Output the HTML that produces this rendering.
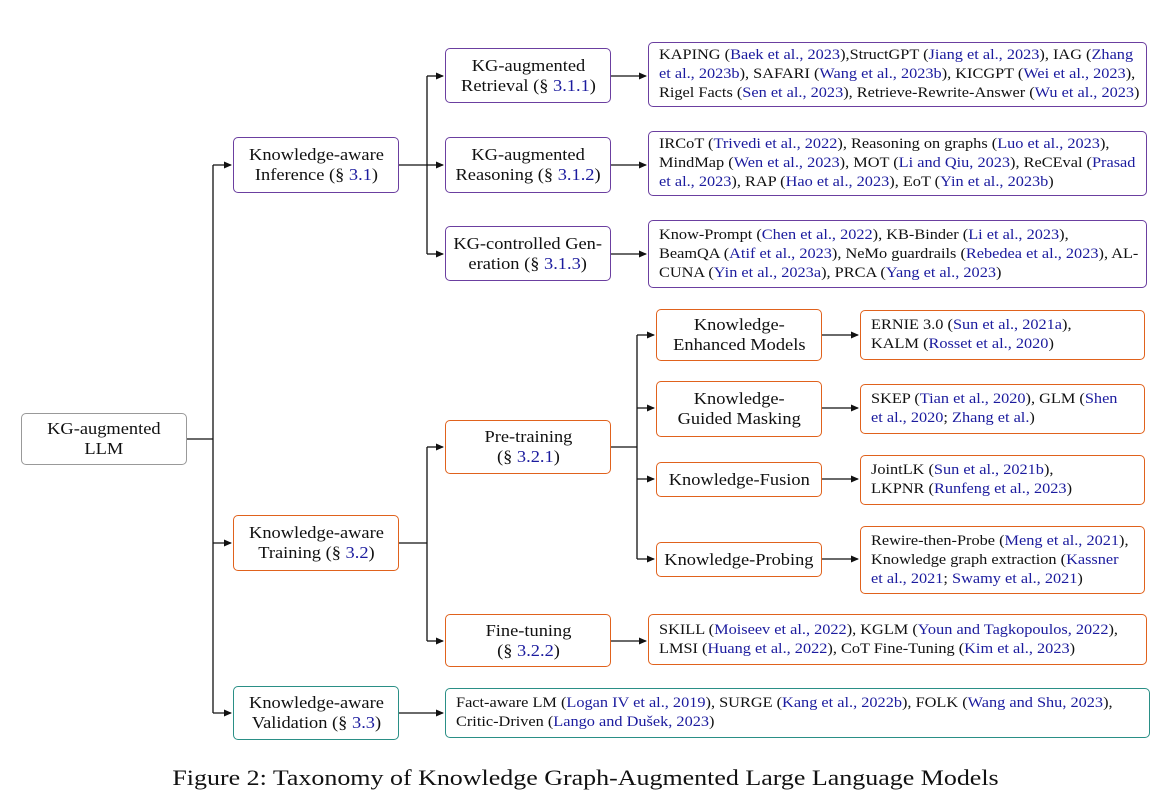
<!DOCTYPE html>
<html><head><meta charset="utf-8">
<style>
body{margin:0;width:1171px;height:811px;background:#fff;position:relative;font-family:"Liberation Serif",serif;overflow:hidden}
.b{position:absolute;box-sizing:border-box;border:1.3px solid;border-radius:5px;display:flex;align-items:center;justify-content:center;text-align:center;font-size:16.5px;line-height:20px;color:#111;white-space:nowrap}
.b>div{transform:scaleX(1.115)}
.l{justify-content:flex-start;text-align:left;font-size:14.3px;line-height:19px;padding-left:10px}
.l>div{transform:scaleX(1.14);transform-origin:left center}
.p{border-color:#6b3fa0}.o{border-color:#e0621d}.t{border-color:#2a8f86}.g{border-color:#999}
c{color:#1b1b9e}
svg{position:absolute;left:0;top:0}
.cap{position:absolute;top:765px;left:0;width:1171px;text-align:center;font-size:22px;color:#111;transform:scaleX(1.18)}
</style></head><body>
<svg width="1171" height="811">
<defs><marker id="a" markerWidth="8" markerHeight="8" refX="7" refY="4" orient="auto" markerUnits="userSpaceOnUse"><path d="M0,0.5 L8,4 L0,7.5z" fill="#111"/></marker></defs>
<g stroke="#111" stroke-width="1.3" fill="none">
<path d="M187,439H213M213,165V713"/>
<path d="M213,165H231" marker-end="url(#a)"/>
<path d="M213,543H231" marker-end="url(#a)"/>
<path d="M213,713H231" marker-end="url(#a)"/>
<path d="M399,165H427M427,76V254"/>
<path d="M427,76H443" marker-end="url(#a)"/>
<path d="M427,165H443" marker-end="url(#a)"/>
<path d="M427,254H443" marker-end="url(#a)"/>
<path d="M611,76H646" marker-end="url(#a)"/>
<path d="M611,165H646" marker-end="url(#a)"/>
<path d="M611,254H646" marker-end="url(#a)"/>
<path d="M399,543H427M427,447V641"/>
<path d="M427,447H443" marker-end="url(#a)"/>
<path d="M427,641H443" marker-end="url(#a)"/>
<path d="M611,447H637M637,335V559"/>
<path d="M637,335H654" marker-end="url(#a)"/>
<path d="M637,408H654" marker-end="url(#a)"/>
<path d="M637,479H654" marker-end="url(#a)"/>
<path d="M637,559H654" marker-end="url(#a)"/>
<path d="M822,335H858" marker-end="url(#a)"/>
<path d="M822,408H858" marker-end="url(#a)"/>
<path d="M822,479H858" marker-end="url(#a)"/>
<path d="M822,559H858" marker-end="url(#a)"/>
<path d="M611,641H646" marker-end="url(#a)"/>
<path d="M399,713H443" marker-end="url(#a)"/>
</g></svg>

<div class="b g" style="left:21px;top:413px;width:166px;height:52px"><div>KG-augmented<br>LLM</div></div>
<div class="b p" style="left:233px;top:137px;width:166px;height:56px"><div>Knowledge-aware<br>Inference (§ <c>3.1</c>)</div></div>
<div class="b o" style="left:233px;top:515px;width:166px;height:56px"><div>Knowledge-aware<br>Training (§ <c>3.2</c>)</div></div>
<div class="b t" style="left:233px;top:686px;width:166px;height:54px"><div>Knowledge-aware<br>Validation (§ <c>3.3</c>)</div></div>

<div class="b p" style="left:445px;top:48px;width:166px;height:55px"><div>KG-augmented<br>Retrieval (§ <c>3.1.1</c>)</div></div>
<div class="b p" style="left:445px;top:137px;width:166px;height:56px"><div>KG-augmented<br>Reasoning (§ <c>3.1.2</c>)</div></div>
<div class="b p" style="left:445px;top:226px;width:166px;height:55px"><div>KG-controlled Gen-<br>eration (§ <c>3.1.3</c>)</div></div>

<div class="b l p" style="left:648px;top:42px;width:499px;height:65px"><div>KAPING (<c>Baek et al., 2023</c>),StructGPT (<c>Jiang et al., 2023</c>), IAG (<c>Zhang</c><br><c>et al., 2023b</c>), SAFARI (<c>Wang et al., 2023b</c>), KICGPT (<c>Wei et al., 2023</c>),<br>Rigel Facts (<c>Sen et al., 2023</c>), Retrieve-Rewrite-Answer (<c>Wu et al., 2023</c>)</div></div>
<div class="b l p" style="left:648px;top:131px;width:499px;height:65px"><div>IRCoT (<c>Trivedi et al., 2022</c>), Reasoning on graphs (<c>Luo et al., 2023</c>),<br>MindMap (<c>Wen et al., 2023</c>), MOT (<c>Li and Qiu, 2023</c>), ReCEval (<c>Prasad</c><br><c>et al., 2023</c>), RAP (<c>Hao et al., 2023</c>), EoT (<c>Yin et al., 2023b</c>)</div></div>
<div class="b l p" style="left:648px;top:220px;width:499px;height:68px"><div>Know-Prompt (<c>Chen et al., 2022</c>), KB-Binder (<c>Li et al., 2023</c>),<br>BeamQA (<c>Atif et al., 2023</c>), NeMo guardrails (<c>Rebedea et al., 2023</c>), AL-<br>CUNA (<c>Yin et al., 2023a</c>), PRCA (<c>Yang et al., 2023</c>)</div></div>

<div class="b o" style="left:445px;top:420px;width:166px;height:54px"><div>Pre-training<br>(§ <c>3.2.1</c>)</div></div>
<div class="b o" style="left:445px;top:614px;width:166px;height:53px"><div>Fine-tuning<br>(§ <c>3.2.2</c>)</div></div>

<div class="b o" style="left:656px;top:309px;width:166px;height:52px"><div>Knowledge-<br>Enhanced Models</div></div>
<div class="b o" style="left:656px;top:381px;width:166px;height:56px"><div>Knowledge-<br>Guided Masking</div></div>
<div class="b o" style="left:656px;top:462px;width:166px;height:35px"><div>Knowledge-Fusion</div></div>
<div class="b o" style="left:656px;top:542px;width:166px;height:35px"><div>Knowledge-Probing</div></div>

<div class="b l o" style="left:860px;top:310px;width:285px;height:50px"><div>ERNIE 3.0 (<c>Sun et al., 2021a</c>),<br>KALM (<c>Rosset et al., 2020</c>)</div></div>
<div class="b l o" style="left:860px;top:384px;width:285px;height:50px"><div>SKEP (<c>Tian et al., 2020</c>), GLM (<c>Shen</c><br><c>et al., 2020</c>; <c>Zhang et al.</c>)</div></div>
<div class="b l o" style="left:860px;top:455px;width:285px;height:50px"><div>JointLK (<c>Sun et al., 2021b</c>),<br>LKPNR (<c>Runfeng et al., 2023</c>)</div></div>
<div class="b l o" style="left:860px;top:526px;width:285px;height:68px"><div>Rewire-then-Probe (<c>Meng et al., 2021</c>),<br>Knowledge graph extraction (<c>Kassner</c><br><c>et al., 2021</c>; <c>Swamy et al., 2021</c>)</div></div>

<div class="b l o" style="left:648px;top:614px;width:499px;height:51px"><div>SKILL (<c>Moiseev et al., 2022</c>), KGLM (<c>Youn and Tagkopoulos, 2022</c>),<br>LMSI (<c>Huang et al., 2022</c>), CoT Fine-Tuning (<c>Kim et al., 2023</c>)</div></div>
<div class="b l t" style="left:445px;top:688px;width:705px;height:50px"><div>Fact-aware LM (<c>Logan IV et al., 2019</c>), SURGE (<c>Kang et al., 2022b</c>), FOLK (<c>Wang and Shu, 2023</c>),<br>Critic-Driven (<c>Lango and Dušek, 2023</c>)</div></div>

<div class="cap">Figure 2: Taxonomy of Knowledge Graph-Augmented Large Language Models</div>
</body></html>
